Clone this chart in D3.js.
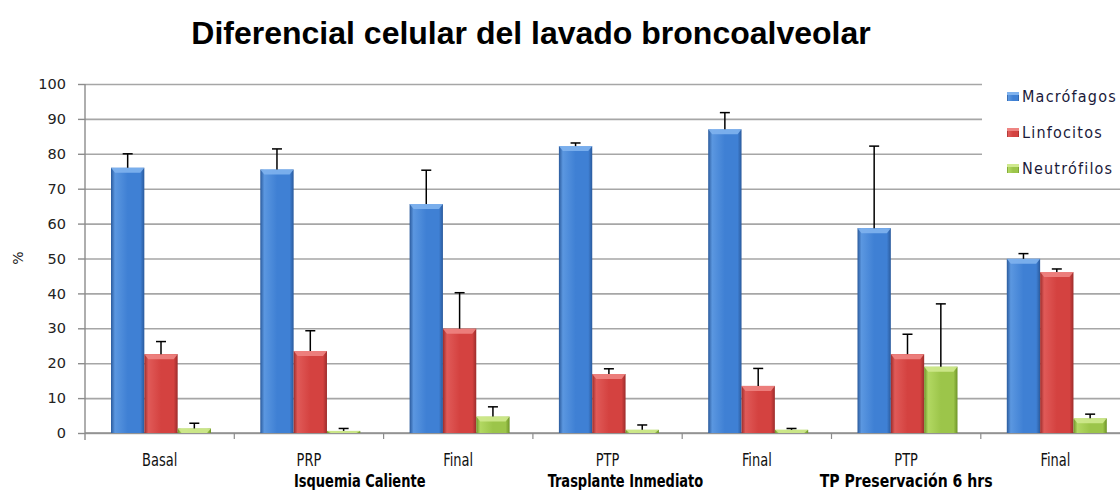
<!DOCTYPE html>
<html><head><meta charset="utf-8">
<script src="https://cdn.jsdelivr.net/npm/d3@7"></script>
<style>body{margin:0;background:#fff}svg{display:block}</style>
</head><body>
<svg id="c" width="1120" height="490"></svg>
<script>
const title = "Diferencial celular del lavado broncoalveolar";
const categories = ["Basal","PRP","Final","PTP","Final","PTP","Final"];
const seriesNames = ["Macrófagos","Linfocitos","Neutrófilos"];
const macrofagos = [76, 75.5, 65.6, 82.2, 87, 58.7, 49.9];
const macrofagosErr = [4, 5.9, 9.7, 0.9, 4.8, 23.5, 1.5];
const linfocitos = [22.6, 23.5, 29.9, 16.9, 13.5, 22.6, 46.1];
const linfocitosErr = [3.6, 5.8, 10.3, 1.5, 5, 5.7, 0.9];
const neutrofilos = [1.3, 0.6, 4.7, 0.9, 0.9, 19.0, 4.2];
const neutrofilosErr = [1.5, 0.7, 2.8, 1.4, 0.4, 18, 1.2];
const groups = ["Isquemia Caliente","Trasplante Inmediato","TP Preservación 6 hrs"];
const yTicks = [0,10,20,30,40,50,60,70,80,90,100];
const yLabel = "%";

const svg = d3.select("#c");
const colors = [
  {mid:"#3f80d4", light:"#5b97e0", dark:"#2a5a9c", top:"#7fb2ee"},
  {mid:"#d44240", light:"#e05a58", dark:"#9c2c2b", top:"#ee8482"},
  {mid:"#9cc54a", light:"#b2d862", dark:"#6e9428", top:"#cfe98e"}
];
const defs = svg.append("defs");
colors.forEach((c,i)=>{
  const g = defs.append("linearGradient").attr("id","g"+i).attr("x1","0").attr("x2","1").attr("y1","0").attr("y2","0");
  g.append("stop").attr("offset","0").attr("stop-color",c.dark);
  g.append("stop").attr("offset","0.12").attr("stop-color",c.light);
  g.append("stop").attr("offset","0.5").attr("stop-color",c.mid);
  g.append("stop").attr("offset","0.88").attr("stop-color",c.mid);
  g.append("stop").attr("offset","1").attr("stop-color",c.dark);
});

const y = d3.scaleLinear().domain([0,100]).range([433,84]);
const x0 = d3.scaleBand().domain(d3.range(categories.length)).range([85, 85+7*149.3]).padding(0);
const x1 = d3.scaleBand().domain(d3.range(3)).range([26, 126]).padding(0);

// gridlines
svg.append("g").attr("transform","translate(85,0)")
  .call(d3.axisLeft(y).tickValues(yTicks).tickSize(-1100).tickFormat(""))
  .call(g=>{g.select(".domain").remove(); g.selectAll("line").attr("stroke","#a6a6a6").attr("stroke-width",1.6);});

// y axis
svg.append("g").attr("transform","translate(85,0)")
  .call(d3.axisLeft(y).tickValues(yTicks).tickSize(7).tickPadding(12))
  .call(g=>{
    g.select(".domain").attr("stroke","#8c8c8c").attr("stroke-width",1.4).attr("d","M0,84V440");
    g.selectAll("line").attr("stroke","#8c8c8c").attr("stroke-width",1.4);
    g.selectAll("text").attr("font-family","DejaVu Sans, Verdana, sans-serif").attr("font-size",14.5).attr("fill","#222");
  });

// x axis line + ticks
svg.append("line").attr("x1",85).attr("x2",1120).attr("y1",y(0)).attr("y2",y(0)).attr("stroke","#8c8c8c").attr("stroke-width",1.4);
svg.append("g").selectAll("line").data(d3.range(1,categories.length)).join("line")
  .attr("x1",d=>x0(d)).attr("x2",d=>x0(d)).attr("y1",y(0)).attr("y2",y(0)+6)
  .attr("stroke","#8c8c8c").attr("stroke-width",1.2);

const series = [
  {vals:macrofagos, err:macrofagosErr},
  {vals:linfocitos, err:linfocitosErr},
  {vals:neutrofilos, err:neutrofilosErr}
];

// legend background
svg.append("rect").attr("x",982).attr("y",72).attr("width",140).attr("height",110).attr("fill","#fff");

series.forEach((s,si)=>{
  const g = svg.append("g");
  const bw = x1.bandwidth();
  s.vals.forEach((v,ci)=>{
    const bx = x0(ci)+x1(si);
    const by = y(v);
    const h = y(0)-by;
    g.append("rect").attr("x",bx).attr("y",by).attr("width",bw).attr("height",h).attr("fill","url(#g"+si+")");
    const bev = Math.min(5, h);
    g.append("path").attr("d",`M${bx},${by}H${bx+bw}L${bx+bw-4},${by+bev}H${bx+4}Z`)
      .attr("fill",colors[si].top).attr("opacity",0.9);
    const cx = bx+bw/2;
    const ey = y(v+s.err[ci]);
    g.append("line").attr("x1",cx).attr("x2",cx).attr("y1",by).attr("y2",ey).attr("stroke","#000").attr("stroke-width",1.5);
    g.append("line").attr("x1",cx-5).attr("x2",cx+5).attr("y1",ey).attr("y2",ey).attr("stroke","#000").attr("stroke-width",1.5);
  });
});

// title
svg.append("text").attr("x",531).attr("y",44).attr("text-anchor","middle")
  .attr("font-family","Liberation Sans, Arial, sans-serif").attr("font-weight","bold").attr("font-size",32)
  .attr("fill","#000").text(title);

// y label
svg.append("text").attr("transform","translate(23,258) rotate(-90)").attr("text-anchor","middle")
  .attr("font-family","DejaVu Sans, Verdana, sans-serif").attr("font-size",14).attr("fill","#222").text(yLabel);

// category labels
const catFont = "Liberation Sans Narrow, DejaVu Sans Condensed, Arial Narrow, sans-serif";
svg.append("g").selectAll("text").data(categories).join("text")
  .attr("transform",(d,i)=>`translate(${x0(i)+x0.bandwidth()/2},466) scale(0.85,1)`)
  .attr("text-anchor","middle").attr("font-family",catFont).attr("font-size",17).attr("fill","#111").text(d=>d);

// group labels
const groupAt = [1.84, 3.62, 5.5];
svg.append("g").selectAll("text").data(groups).join("text")
  .attr("transform",(d,i)=>`translate(${85+groupAt[i]*x0.bandwidth()},487) scale(${i===2?0.92:0.85},1)`)
  .attr("text-anchor","middle").attr("font-family",catFont).attr("font-weight","bold").attr("font-size",17).attr("fill","#000").text(d=>d);

// legend
const leg = svg.append("g").selectAll("g").data(seriesNames).join("g")
  .attr("transform",(d,i)=>`translate(1007,${92+i*36})`);
leg.append("rect").attr("width",12).attr("height",9).attr("fill",(d,i)=>`url(#g${i})`);
leg.append("rect").attr("width",12).attr("height",3).attr("fill",(d,i)=>colors[i].top);
leg.append("text").attr("x",15).attr("y",10).attr("font-family",catFont).attr("font-size",16).attr("letter-spacing",1.2)
  .attr("fill","#1a1a3a").text(d=>d);
</script>
</body></html>
